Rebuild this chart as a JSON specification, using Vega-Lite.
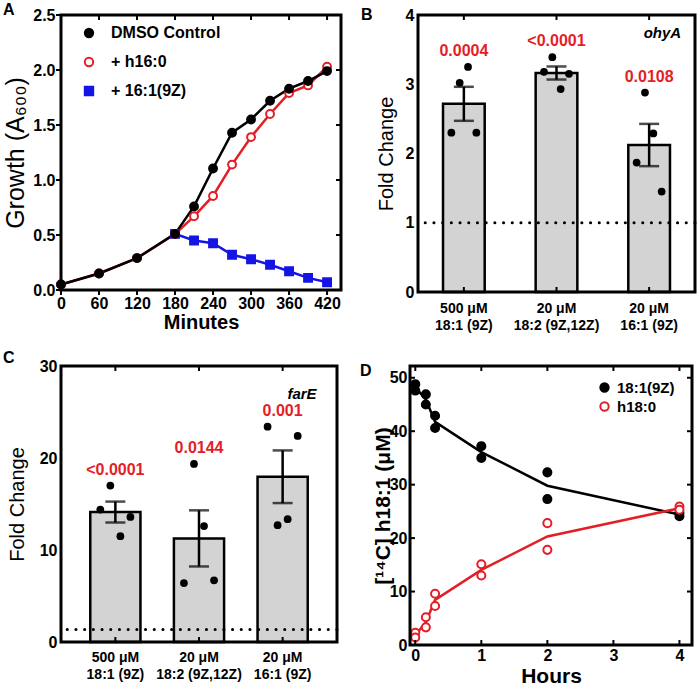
{
  "$schema": "https://vega.github.io/schema/vega-lite/v6.json",
  "background": "white",
  "padding": {"left": 3, "top": 2, "right": 0, "bottom": 0},
  "datasets": {
    "growth": [
      {"series": "+ 16:1(9Z)", "minutes": 180, "growth": 0.51},
      {"series": "+ 16:1(9Z)", "minutes": 210, "growth": 0.45},
      {"series": "+ 16:1(9Z)", "minutes": 240, "growth": 0.425},
      {"series": "+ 16:1(9Z)", "minutes": 270, "growth": 0.32},
      {"series": "+ 16:1(9Z)", "minutes": 300, "growth": 0.28},
      {"series": "+ 16:1(9Z)", "minutes": 330, "growth": 0.23},
      {"series": "+ 16:1(9Z)", "minutes": 360, "growth": 0.17},
      {"series": "+ 16:1(9Z)", "minutes": 390, "growth": 0.11},
      {"series": "+ 16:1(9Z)", "minutes": 420, "growth": 0.07},
      {"series": "+ h16:0", "minutes": 0, "growth": 0.05},
      {"series": "+ h16:0", "minutes": 60, "growth": 0.15},
      {"series": "+ h16:0", "minutes": 120, "growth": 0.29},
      {"series": "+ h16:0", "minutes": 180, "growth": 0.51},
      {"series": "+ h16:0", "minutes": 210, "growth": 0.67},
      {"series": "+ h16:0", "minutes": 240, "growth": 0.855},
      {"series": "+ h16:0", "minutes": 270, "growth": 1.14},
      {"series": "+ h16:0", "minutes": 300, "growth": 1.39},
      {"series": "+ h16:0", "minutes": 330, "growth": 1.6},
      {"series": "+ h16:0", "minutes": 360, "growth": 1.79},
      {"series": "+ h16:0", "minutes": 390, "growth": 1.86},
      {"series": "+ h16:0", "minutes": 420, "growth": 2.03},
      {"series": "DMSO Control", "minutes": 0, "growth": 0.05},
      {"series": "DMSO Control", "minutes": 60, "growth": 0.15},
      {"series": "DMSO Control", "minutes": 120, "growth": 0.29},
      {"series": "DMSO Control", "minutes": 180, "growth": 0.51},
      {"series": "DMSO Control", "minutes": 210, "growth": 0.76},
      {"series": "DMSO Control", "minutes": 240, "growth": 1.105},
      {"series": "DMSO Control", "minutes": 270, "growth": 1.43},
      {"series": "DMSO Control", "minutes": 300, "growth": 1.55},
      {"series": "DMSO Control", "minutes": 330, "growth": 1.72},
      {"series": "DMSO Control", "minutes": 360, "growth": 1.83},
      {"series": "DMSO Control", "minutes": 390, "growth": 1.9},
      {"series": "DMSO Control", "minutes": 420, "growth": 1.99}
    ],
    "ohyA": [
      {"group": "500 μM|18:1 (9Z)", "rep": 1, "value": 2.30},
      {"group": "500 μM|18:1 (9Z)", "rep": 2, "value": 3.02},
      {"group": "500 μM|18:1 (9Z)", "rep": 3, "value": 3.25},
      {"group": "500 μM|18:1 (9Z)", "rep": 4, "value": 2.30},
      {"group": "20 μM|18:2 (9Z,12Z)", "rep": 1, "value": 3.18},
      {"group": "20 μM|18:2 (9Z,12Z)", "rep": 2, "value": 3.39},
      {"group": "20 μM|18:2 (9Z,12Z)", "rep": 3, "value": 2.93},
      {"group": "20 μM|18:2 (9Z,12Z)", "rep": 4, "value": 3.15},
      {"group": "20 μM|16:1 (9Z)", "rep": 2, "value": 2.88},
      {"group": "20 μM|16:1 (9Z)", "rep": 3, "value": 2.29},
      {"group": "20 μM|16:1 (9Z)", "rep": 1, "value": 1.87},
      {"group": "20 μM|16:1 (9Z)", "rep": 4, "value": 1.45}
    ],
    "ohyA_p": [
      {"group": "500 μM|18:1 (9Z)", "p": "0.0004"},
      {"group": "20 μM|18:2 (9Z,12Z)", "p": "<0.0001"},
      {"group": "20 μM|16:1 (9Z)", "p": "0.0108"}
    ],
    "farE": [
      {"group": "500 μM|18:1 (9Z)", "rep": 2, "value": 17.0},
      {"group": "500 μM|18:1 (9Z)", "rep": 1, "value": 14.4},
      {"group": "500 μM|18:1 (9Z)", "rep": 4, "value": 13.6},
      {"group": "500 μM|18:1 (9Z)", "rep": 3, "value": 11.5},
      {"group": "20 μM|18:2 (9Z,12Z)", "rep": 2, "value": 19.35},
      {"group": "20 μM|18:2 (9Z,12Z)", "rep": 3, "value": 12.6},
      {"group": "20 μM|18:2 (9Z,12Z)", "rep": 1, "value": 6.4},
      {"group": "20 μM|18:2 (9Z,12Z)", "rep": 4, "value": 6.7},
      {"group": "20 μM|16:1 (9Z)", "rep": 1, "value": 23.4},
      {"group": "20 μM|16:1 (9Z)", "rep": 4, "value": 22.4},
      {"group": "20 μM|16:1 (9Z)", "rep": 2, "value": 12.7},
      {"group": "20 μM|16:1 (9Z)", "rep": 3, "value": 13.35}
    ],
    "farE_p": [
      {"group": "500 μM|18:1 (9Z)", "p": "<0.0001"},
      {"group": "20 μM|18:2 (9Z,12Z)", "p": "0.0144"},
      {"group": "20 μM|16:1 (9Z)", "p": "0.001"}
    ],
    "fa": [
      {"species": "18:1(9Z)", "hours": 0, "conc": 48.8},
      {"species": "18:1(9Z)", "hours": 0, "conc": 47.6},
      {"species": "18:1(9Z)", "hours": 0.16, "conc": 46.9},
      {"species": "18:1(9Z)", "hours": 0.16, "conc": 45.0},
      {"species": "18:1(9Z)", "hours": 0.3, "conc": 42.9},
      {"species": "18:1(9Z)", "hours": 0.3, "conc": 40.6},
      {"species": "18:1(9Z)", "hours": 1, "conc": 37.2},
      {"species": "18:1(9Z)", "hours": 1, "conc": 35.0},
      {"species": "18:1(9Z)", "hours": 2, "conc": 32.3},
      {"species": "18:1(9Z)", "hours": 2, "conc": 27.3},
      {"species": "18:1(9Z)", "hours": 4, "conc": 24.7},
      {"species": "18:1(9Z)", "hours": 4, "conc": 24.1},
      {"species": "h18:0", "hours": 0, "conc": 2.3},
      {"species": "h18:0", "hours": 0, "conc": 1.4},
      {"species": "h18:0", "hours": 0.16, "conc": 5.2},
      {"species": "h18:0", "hours": 0.16, "conc": 3.3},
      {"species": "h18:0", "hours": 0.3, "conc": 9.6},
      {"species": "h18:0", "hours": 0.3, "conc": 7.3},
      {"species": "h18:0", "hours": 1, "conc": 15.1},
      {"species": "h18:0", "hours": 1, "conc": 13.0},
      {"species": "h18:0", "hours": 2, "conc": 22.8},
      {"species": "h18:0", "hours": 2, "conc": 17.8},
      {"species": "h18:0", "hours": 4, "conc": 25.9},
      {"species": "h18:0", "hours": 4, "conc": 25.3}
    ],
    "ticksA_x": [{"t": 0}, {"t": 60}, {"t": 120}, {"t": 180}, {"t": 240}, {"t": 300}, {"t": 360}, {"t": 420}],
    "ticksA_y": [{"t": 0}, {"t": 0.5}, {"t": 1}, {"t": 1.5}, {"t": 2}, {"t": 2.5}],
    "ticksD_x": [{"t": 0}, {"t": 1}, {"t": 2}, {"t": 3}, {"t": 4}],
    "ticksD_y": [{"t": 0}, {"t": 10}, {"t": 20}, {"t": 30}, {"t": 40}, {"t": 50}]
  },
  "config": {
    "font": "Liberation Sans",
    "view": {"stroke": null},
    "axis": {
      "domain": false, "ticks": false, "grid": false,
      "labelColor": "black", "labelFontSize": 16, "labelFontWeight": "bold", "labelFont": "Liberation Sans",
      "titleFont": "Liberation Sans", "titleColor": "black", "labelPadding": 2, "labelFlush": false, "labelOverlap": false
    },
    "title": {"font": "Liberation Sans", "fontSize": 16, "fontWeight": "bold", "anchor": "start", "color": "black", "frame": "group"},
    "legend": {"labelFont": "Liberation Sans", "labelFontWeight": "bold", "labelColor": "black", "padding": 0}
  },
  "resolve": {
    "scale": {"color": "independent", "fill": "independent", "stroke": "independent", "shape": "independent", "xOffset": "independent"},
    "legend": {"color": "independent", "fill": "independent", "stroke": "independent", "shape": "independent"}
  },
  "spacing": 18,
  "vconcat": [
    {
      "spacing": 18,
      "resolve": {
        "scale": {"color": "independent", "fill": "independent", "stroke": "independent", "shape": "independent", "xOffset": "independent"},
        "legend": {"color": "independent", "fill": "independent", "stroke": "independent", "shape": "independent"}
      },
      "hconcat": [
        {
          "width": 280, "height": 275,
          "title": {"text": "A", "dx": -58, "offset": -11},
          "data": {"name": "growth"},
          "resolve": {"axis": {"x": "independent", "y": "independent"}},
          "layer": [
            {
              "mark": {"type": "line", "strokeWidth": 2.5},
              "encoding": {
                "x": {"field": "minutes", "type": "quantitative", "scale": {"domain": [0, 442], "nice": false, "zero": false},
                      "axis": {"values": [0, 60, 120, 180, 240, 300, 360, 420], "title": "Minutes", "titleFontSize": 20, "titleFontWeight": "bold", "labelPadding": 5, "titlePadding": 1}},
                "y": {"field": "growth", "type": "quantitative", "scale": {"domain": [0, 2.5], "nice": false},
                      "axis": {"values": [0, 0.5, 1, 1.5, 2, 2.5], "format": ".1f", "title": "Growth (A₆₀₀)", "titleFontSize": 25, "titleFontWeight": "normal", "labelPadding": 6, "titlePadding": 4}},
                "color": {"field": "series", "type": "nominal", "scale": {"range": ["#1414e6", "#e41e26", "black"]}, "legend": null}
              }
            },
            {
              "mark": {"type": "point", "size": 62, "strokeWidth": 2, "opacity": 1, "filled": true},
              "encoding": {
                "x": {"field": "minutes", "type": "quantitative", "axis": null},
                "y": {"field": "growth", "type": "quantitative", "axis": null},
                "shape": {"field": "series", "type": "nominal", "scale": {"domain": ["DMSO Control", "+ h16:0", "+ 16:1(9Z)"], "range": ["circle", "circle", "square"]},
                          "legend": {"title": null, "orient": "none", "legendX": 20, "legendY": 10, "labelFontSize": 16, "symbolSize": 70, "symbolStrokeWidth": 2, "rowPadding": 11, "labelOffset": 14}},
                "fill": {"field": "series", "type": "nominal", "scale": {"domain": ["DMSO Control", "+ h16:0", "+ 16:1(9Z)"], "range": ["black", "white", "#1414e6"]},
                         "legend": {"title": null, "orient": "none", "legendX": 20, "legendY": 10, "labelFontSize": 16, "symbolSize": 70, "symbolStrokeWidth": 2, "rowPadding": 11, "labelOffset": 14}},
                "stroke": {"field": "series", "type": "nominal", "scale": {"domain": ["DMSO Control", "+ h16:0", "+ 16:1(9Z)"], "range": ["black", "#e41e26", "#1414e6"]},
                           "legend": {"title": null, "orient": "none", "legendX": 20, "legendY": 10, "labelFontSize": 16, "symbolSize": 70, "symbolStrokeWidth": 2, "rowPadding": 11, "labelOffset": 14}}
              }
            },
            {
              "data": {"name": "ticksA_x"},
              "mark": {"type": "rule", "color": "black", "strokeWidth": 2, "y2Offset": 5},
              "encoding": {"x": {"field": "t", "type": "quantitative", "axis": null}, "y": {"datum": 0, "type": "quantitative", "axis": null}, "y2": {"datum": 0}}
            },
            {
              "data": {"name": "ticksA_x"},
              "mark": {"type": "rule", "color": "black", "strokeWidth": 2, "y2Offset": 5},
              "encoding": {"x": {"field": "t", "type": "quantitative", "axis": null}, "y": {"datum": 2.5, "type": "quantitative", "axis": null}, "y2": {"datum": 2.5}}
            },
            {
              "data": {"name": "ticksA_y"},
              "mark": {"type": "rule", "color": "black", "strokeWidth": 2, "x2Offset": -5},
              "encoding": {"y": {"field": "t", "type": "quantitative", "axis": null}, "x": {"datum": 0, "type": "quantitative", "axis": null}, "x2": {"datum": 0}}
            },
            {
              "data": {"name": "ticksA_y"},
              "mark": {"type": "rule", "color": "black", "strokeWidth": 2, "x2Offset": -5},
              "encoding": {"y": {"field": "t", "type": "quantitative", "axis": null}, "x": {"datum": 442, "type": "quantitative", "axis": null}, "x2": {"datum": 442}}
            },
            {
              "data": {"values": [{"lo": 0, "hi": 2.5}]},
              "mark": {"type": "rect", "filled": false, "stroke": "black", "strokeWidth": 3},
              "encoding": {"y": {"field": "lo", "type": "quantitative", "axis": null}, "y2": {"field": "hi"}}
            }
          ]
        },
        {
          "width": 277, "height": 277,
          "title": {"text": "B", "dx": -57, "offset": -16},
          "data": {"name": "ohyA"},
          "resolve": {"axis": {"x": "independent", "y": "independent"}, "scale": {"xOffset": "independent"}},
          "layer": [
            {
              "mark": {"type": "bar", "fill": "#d3d3d3", "stroke": "black", "strokeWidth": 2.5},
              "encoding": {
                "x": {"field": "group", "type": "nominal", "scale": {"domain": ["500 μM|18:1 (9Z)", "20 μM|18:2 (9Z,12Z)", "20 μM|16:1 (9Z)"], "paddingInner": 0.55, "paddingOuter": 0.27},
                      "axis": {"title": null, "labelExpr": "split(datum.label, '|')", "labelAngle": 0, "labelFontSize": 14, "labelLineHeight": 17, "labelBaseline": "top", "labelPadding": 9}},
                "y": {"aggregate": "mean", "field": "value", "type": "quantitative", "scale": {"domain": [0, 4], "nice": false},
                      "axis": {"values": [0, 1, 2, 3, 4], "title": "Fold Change", "titleFontSize": 20, "titleFontWeight": "normal", "labelPadding": 4, "titlePadding": 9}}
              }
            },
            {
              "data": {"values": [{"ref": 1}]},
              "mark": {"type": "rule", "color": "black", "strokeWidth": 3, "strokeDash": [0.1, 8.6], "strokeCap": "round"},
              "encoding": {"y": {"field": "ref", "type": "quantitative", "axis": null}}
            },
            {
              "mark": {"type": "errorbar", "extent": "stderr", "color": "black", "ticks": {"size": 20, "thickness": 2.5}, "rule": {"strokeWidth": 2.5}},
              "encoding": {
                "x": {"field": "group", "type": "nominal", "axis": null},
                "y": {"field": "value", "type": "quantitative", "axis": null}
              }
            },
            {
              "mark": {"type": "circle", "size": 60, "color": "black", "opacity": 1},
              "encoding": {
                "x": {"field": "group", "type": "nominal", "axis": null},
                "xOffset": {"field": "rep", "type": "nominal", "scale": {"paddingOuter": 3}},
                "y": {"field": "value", "type": "quantitative", "axis": null}
              }
            },
            {
              "transform": [
                {"aggregate": [{"op": "max", "field": "value", "as": "top"}], "groupby": ["group"]},
                {"lookup": "group", "from": {"data": {"name": "ohyA_p"}, "key": "group", "fields": ["p"]}}
              ],
              "mark": {"type": "text", "color": "#e41e26", "fontSize": 16, "fontWeight": "bold", "dy": -16},
              "encoding": {
                "x": {"field": "group", "type": "nominal", "axis": null},
                "y": {"field": "top", "type": "quantitative", "axis": null},
                "text": {"field": "p"}
              }
            },
            {
              "data": {"values": [{"gene": "ohyA"}]},
              "mark": {"type": "text", "fontSize": 15, "fontStyle": "italic", "fontWeight": "bold", "align": "right", "dx": 32},
              "encoding": {
                "x": {"datum": "20 μM|16:1 (9Z)", "type": "nominal", "axis": null},
                "y": {"datum": 3.74, "type": "quantitative", "axis": null},
                "text": {"field": "gene"}
              }
            },
            {
              "data": {"name": "ohyA_p"},
              "mark": {"type": "rule", "color": "black", "strokeWidth": 2, "y2Offset": -5},
              "encoding": {"x": {"field": "group", "type": "nominal", "axis": null}, "y": {"datum": 0, "type": "quantitative", "axis": null}, "y2": {"datum": 0}}
            },
            {
              "data": {"name": "ohyA_p"},
              "mark": {"type": "rule", "color": "black", "strokeWidth": 2, "y2Offset": 5},
              "encoding": {"x": {"field": "group", "type": "nominal", "axis": null}, "y": {"datum": 4, "type": "quantitative", "axis": null}, "y2": {"datum": 4}}
            },
            {
              "data": {"values": [{"lo": 0, "hi": 4}]},
              "mark": {"type": "rect", "filled": false, "stroke": "black", "strokeWidth": 3},
              "encoding": {"y": {"field": "lo", "type": "quantitative", "axis": null}, "y2": {"field": "hi"}}
            }
          ]
        }
      ]
    },
    {
      "spacing": 21,
      "resolve": {
        "scale": {"color": "independent", "fill": "independent", "stroke": "independent", "shape": "independent", "xOffset": "independent"},
        "legend": {"color": "independent", "fill": "independent", "stroke": "independent", "shape": "independent"}
      },
      "hconcat": [
        {
          "width": 276, "height": 276,
          "title": {"text": "C", "dx": -58, "offset": -8},
          "data": {"name": "farE"},
          "resolve": {"axis": {"x": "independent", "y": "independent"}, "scale": {"xOffset": "independent"}},
          "layer": [
            {
              "mark": {"type": "bar", "fill": "#d3d3d3", "stroke": "black", "strokeWidth": 2.5},
              "encoding": {
                "x": {"field": "group", "type": "nominal", "scale": {"domain": ["500 μM|18:1 (9Z)", "20 μM|18:2 (9Z,12Z)", "20 μM|16:1 (9Z)"], "paddingInner": 0.4, "paddingOuter": 0.35},
                      "axis": {"title": null, "labelExpr": "split(datum.label, '|')", "labelAngle": 0, "labelFontSize": 14, "labelLineHeight": 17, "labelBaseline": "top", "labelPadding": 8}},
                "y": {"aggregate": "mean", "field": "value", "type": "quantitative", "scale": {"domain": [0, 30], "nice": false},
                      "axis": {"values": [0, 10, 20, 30], "title": "Fold Change", "titleFontSize": 20, "titleFontWeight": "normal", "labelPadding": 4, "titlePadding": 12}}
              }
            },
            {
              "data": {"values": [{"ref": 1.35}]},
              "mark": {"type": "rule", "color": "black", "strokeWidth": 3, "strokeDash": [0.1, 8.6], "strokeCap": "round"},
              "encoding": {"y": {"field": "ref", "type": "quantitative", "axis": null}}
            },
            {
              "mark": {"type": "errorbar", "extent": "stderr", "color": "black", "ticks": {"size": 20, "thickness": 2.5}, "rule": {"strokeWidth": 2.5}},
              "encoding": {
                "x": {"field": "group", "type": "nominal", "axis": null},
                "y": {"field": "value", "type": "quantitative", "axis": null}
              }
            },
            {
              "mark": {"type": "circle", "size": 60, "color": "black", "opacity": 1},
              "encoding": {
                "x": {"field": "group", "type": "nominal", "axis": null},
                "xOffset": {"field": "rep", "type": "nominal", "scale": {"paddingOuter": 3}},
                "y": {"field": "value", "type": "quantitative", "axis": null}
              }
            },
            {
              "transform": [
                {"aggregate": [{"op": "max", "field": "value", "as": "top"}], "groupby": ["group"]},
                {"lookup": "group", "from": {"data": {"name": "farE_p"}, "key": "group", "fields": ["p"]}}
              ],
              "mark": {"type": "text", "color": "#e41e26", "fontSize": 16, "fontWeight": "bold", "dy": -16},
              "encoding": {
                "x": {"field": "group", "type": "nominal", "axis": null},
                "y": {"field": "top", "type": "quantitative", "axis": null},
                "text": {"field": "p"}
              }
            },
            {
              "data": {"values": [{"gene": "farE"}]},
              "mark": {"type": "text", "fontSize": 15, "fontStyle": "italic", "fontWeight": "bold", "align": "right", "dx": 34},
              "encoding": {
                "x": {"datum": "20 μM|16:1 (9Z)", "type": "nominal", "axis": null},
                "y": {"datum": 27.0, "type": "quantitative", "axis": null},
                "text": {"field": "gene"}
              }
            },
            {
              "data": {"name": "farE_p"},
              "mark": {"type": "rule", "color": "black", "strokeWidth": 2, "y2Offset": -5},
              "encoding": {"x": {"field": "group", "type": "nominal", "axis": null}, "y": {"datum": 0, "type": "quantitative", "axis": null}, "y2": {"datum": 0}}
            },
            {
              "data": {"name": "farE_p"},
              "mark": {"type": "rule", "color": "black", "strokeWidth": 2, "y2Offset": 5},
              "encoding": {"x": {"field": "group", "type": "nominal", "axis": null}, "y": {"datum": 30, "type": "quantitative", "axis": null}, "y2": {"datum": 30}}
            },
            {
              "data": {"values": [{"lo": 0, "hi": 30}]},
              "mark": {"type": "rect", "filled": false, "stroke": "black", "strokeWidth": 3},
              "encoding": {"y": {"field": "lo", "type": "quantitative", "axis": null}, "y2": {"field": "hi"}}
            }
          ]
        },
        {
          "width": 282, "height": 279,
          "title": {"text": "D", "dx": -50, "offset": -14},
          "data": {"name": "fa"},
          "resolve": {"axis": {"x": "independent", "y": "independent"}},
          "layer": [
            {
              "mark": {"type": "line", "strokeWidth": 2.5},
              "encoding": {
                "x": {"field": "hours", "type": "quantitative", "scale": {"domain": [-0.08, 4.19], "nice": false, "zero": false},
                      "axis": {"values": [0, 1, 2, 3, 4], "title": "Hours", "titleFontSize": 21, "titleFontWeight": "bold", "labelPadding": 2, "titlePadding": 2}},
                "y": {"aggregate": "mean", "field": "conc", "type": "quantitative", "scale": {"domain": [0, 52.2], "nice": false},
                      "axis": {"values": [0, 10, 20, 30, 40, 50], "title": "[¹⁴C] h18:1 (μM)", "titleFontSize": 21, "titleFontWeight": "bold", "labelPadding": 3, "titlePadding": -4}},
                "color": {"field": "species", "type": "nominal", "scale": {"range": ["black", "#e41e26"]}, "legend": null}
              }
            },
            {
              "mark": {"type": "point", "size": 65, "strokeWidth": 2, "opacity": 1, "filled": true, "shape": "circle"},
              "encoding": {
                "x": {"field": "hours", "type": "quantitative", "axis": null},
                "y": {"field": "conc", "type": "quantitative", "axis": null},
                "fill": {"field": "species", "type": "nominal", "scale": {"domain": ["18:1(9Z)", "h18:0"], "range": ["black", "white"]},
                         "legend": {"title": null, "orient": "none", "legendX": 187, "legendY": 14, "labelFontSize": 15, "symbolSize": 70, "symbolStrokeWidth": 2, "rowPadding": 2, "labelOffset": 5, "symbolType": "circle"}},
                "stroke": {"field": "species", "type": "nominal", "scale": {"domain": ["18:1(9Z)", "h18:0"], "range": ["black", "#e41e26"]},
                           "legend": {"title": null, "orient": "none", "legendX": 187, "legendY": 14, "labelFontSize": 15, "symbolSize": 70, "symbolStrokeWidth": 2, "rowPadding": 2, "labelOffset": 5, "symbolType": "circle"}}
              }
            },
            {
              "data": {"name": "ticksD_x"},
              "mark": {"type": "rule", "color": "black", "strokeWidth": 2, "y2Offset": -5},
              "encoding": {"x": {"field": "t", "type": "quantitative", "axis": null}, "y": {"datum": 0, "type": "quantitative", "axis": null}, "y2": {"datum": 0}}
            },
            {
              "data": {"name": "ticksD_x"},
              "mark": {"type": "rule", "color": "black", "strokeWidth": 2, "y2Offset": 5},
              "encoding": {"x": {"field": "t", "type": "quantitative", "axis": null}, "y": {"datum": 52.2, "type": "quantitative", "axis": null}, "y2": {"datum": 52.2}}
            },
            {
              "data": {"name": "ticksD_y"},
              "mark": {"type": "rule", "color": "black", "strokeWidth": 2, "x2Offset": 5},
              "encoding": {"y": {"field": "t", "type": "quantitative", "axis": null}, "x": {"datum": -0.08, "type": "quantitative", "axis": null}, "x2": {"datum": -0.08}}
            },
            {
              "data": {"name": "ticksD_y"},
              "mark": {"type": "rule", "color": "black", "strokeWidth": 2, "x2Offset": -5},
              "encoding": {"y": {"field": "t", "type": "quantitative", "axis": null}, "x": {"datum": 4.19, "type": "quantitative", "axis": null}, "x2": {"datum": 4.19}}
            },
            {
              "data": {"values": [{"lo": 0, "hi": 52.2}]},
              "mark": {"type": "rect", "filled": false, "stroke": "black", "strokeWidth": 3},
              "encoding": {"y": {"field": "lo", "type": "quantitative", "axis": null}, "y2": {"field": "hi"}}
            }
          ]
        }
      ]
    }
  ]
}
